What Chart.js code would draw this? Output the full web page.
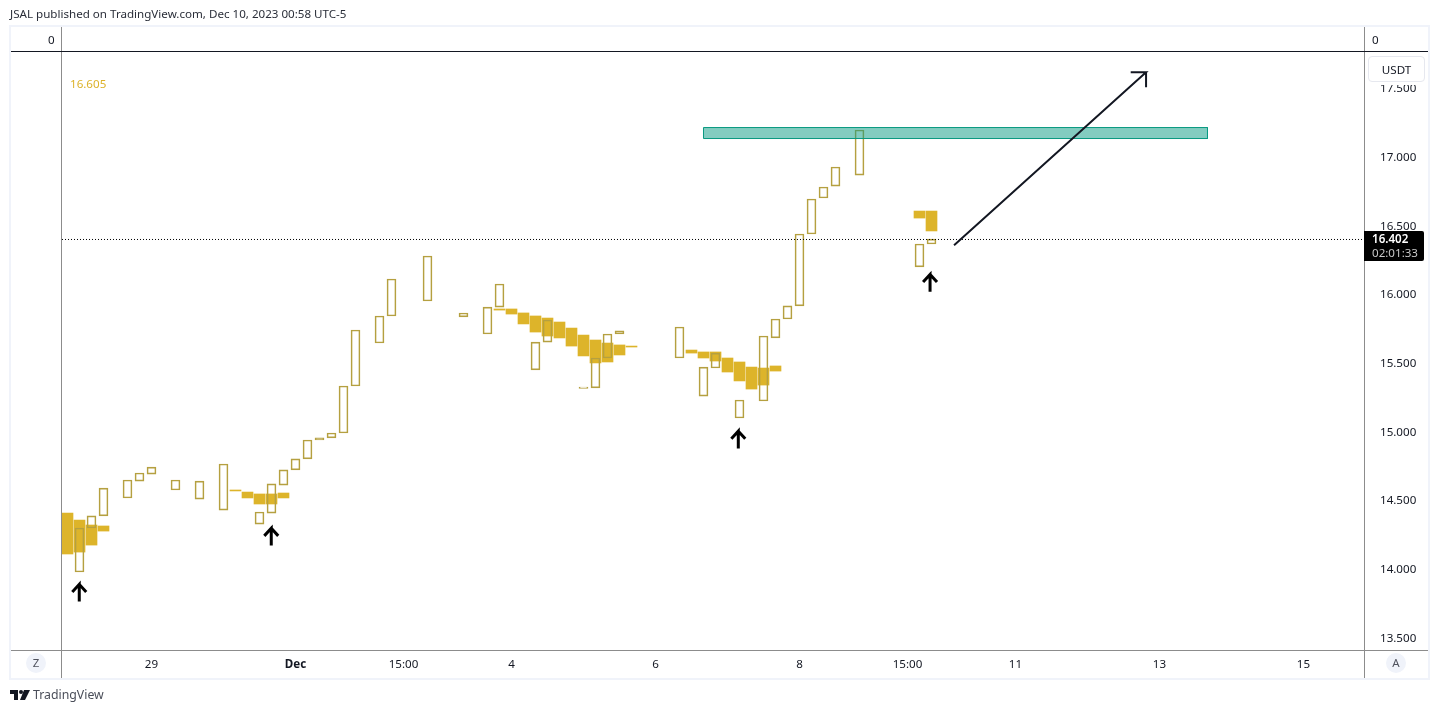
<!DOCTYPE html>
<html>
<head>
<meta charset="utf-8">
<title>JSAL chart</title>
<script src="https://cdn.jsdelivr.net/npm/chart.js@4"></script>
<style>
    html, body { margin: 0; padding: 0; background: #fff; width: 1438px; height: 713px; overflow: hidden; }
    body { font-family: "Noto Sans", sans-serif; color: #131722; position: relative; }
    canvas { position: absolute; left: 0; top: 0; }
    .abs { position: absolute; white-space: nowrap; }
    .txt { font-size: 11.6px; line-height: 16px; }
    .line { position: absolute; background: #8c8c8c; }
    .circle { position: absolute; width: 20px; height: 20px; border-radius: 50%; background: #f0f3fa; color: #50535e;
              font-size: 11.5px; line-height: 20px; text-align: center; }
</style>
</head>
<body>
<!-- frame of the chart widget -->
<div class="abs" style="left:9px;top:25px;width:1417px;height:651px;border:2px solid #f0f3fa;"></div>
<div class="line" style="left:61px;top:27px;width:1px;height:651px;"></div>
<div class="line" style="left:1364px;top:27px;width:1px;height:651px;"></div>
<div class="line" style="left:11px;top:650px;width:1417px;height:1px;"></div>
<div class="line" style="left:11px;top:51px;width:1417px;height:1px;background:#131722;"></div>

<canvas id="priceChart" width="1438" height="713"></canvas>

<div class="abs txt" style="left:10px;top:6px;color:#2a2e39;">JSAL published on TradingView.com, Dec 10, 2023 00:58 UTC-5</div>
<div class="abs txt" style="left:48px;top:32px;">0</div>
<div class="abs txt" style="left:1372px;top:32px;">0</div>
<div class="abs txt" style="left:70px;top:76px;color:#dcb22a;">16.605</div>

<!-- unit badge sits on top of the 17.500 tick -->
<div class="abs txt" style="left:1368px;top:56px;width:55px;height:24px;line-height:25px;background:#fff;border:1px solid #e6e8ef;border-radius:4px;text-align:center;box-shadow:0 3px 0 #fff;">USDT</div>

<!-- last price box -->
<div class="abs" style="left:1364px;top:231px;width:60px;height:30px;background:#000;border-radius:0 2px 2px 0;"></div>
<div class="abs txt" style="left:1372px;top:231px;color:#fff;font-weight:600;">16.402</div>
<div class="abs txt" style="left:1372px;top:245px;color:#c8c8c8;">02:01:33</div>

<div class="circle" style="left:26px;top:653px;">Z</div>
<div class="circle" style="left:1386px;top:653px;">A</div>

<!-- TradingView mark -->
<svg class="abs" style="left:10px;top:690px;" width="20" height="11" viewBox="0 0 20 11">
    <path d="M0 0h8v10H4V4H0z" fill="#131722"/>
    <circle cx="11" cy="2" r="2" fill="#131722"/>
    <path d="M14 0h6l-5 10H10z" fill="#131722"/>
</svg>
<div class="abs" style="left:33px;top:686px;font-size:12.3px;line-height:18px;color:#4a4e59;">TradingView</div>

<script>
    // Hollow candles: slot number on the time axis, top and bottom price
    const hollowSlots = [1, 2, 3, 5, 6, 7, 9, 11, 13, 16, 17, 18, 19, 20, 21, 22, 23, 24, 26, 27, 30, 33, 35, 36, 39, 40, 43, 44, 45, 46, 51, 53, 54, 56, 58, 59, 60, 61, 62, 63, 64, 66, 71, 72];
    const hollowTop = [14.295, 14.383, 14.586, 14.645, 14.696, 14.739, 14.645, 14.637, 14.761, 14.412, 14.616, 14.718, 14.798, 14.936, 14.951, 14.987, 15.329, 15.737, 15.839, 16.108, 16.276, 15.861, 15.904, 16.072, 15.649, 15.810, 15.322, 15.533, 15.708, 15.730, 15.759, 15.467, 15.569, 15.227, 15.693, 15.817, 15.912, 16.436, 16.691, 16.778, 16.924, 17.193, 16.363, 16.399];
    const hollowBottom = [13.975, 14.295, 14.383, 14.514, 14.637, 14.688, 14.572, 14.506, 14.426, 14.324, 14.404, 14.608, 14.718, 14.798, 14.936, 14.951, 14.987, 15.329, 15.642, 15.839, 15.948, 15.832, 15.708, 15.904, 15.446, 15.649, 15.312, 15.315, 15.533, 15.708, 15.533, 15.256, 15.460, 15.096, 15.220, 15.679, 15.817, 15.912, 16.436, 16.698, 16.785, 16.865, 16.196, 16.363];

    // Solid gold candles
    const goldSlots = [0, 1, 2, 3, 14, 15, 16, 17, 18, 36, 37, 38, 39, 40, 41, 42, 43, 44, 45, 46, 47, 52, 53, 54, 55, 56, 57, 58, 59, 71, 72];
    const goldTop = [14.404, 14.353, 14.317, 14.310, 14.572, 14.557, 14.543, 14.543, 14.550, 15.890, 15.890, 15.861, 15.839, 15.824, 15.795, 15.751, 15.700, 15.664, 15.642, 15.628, 15.620, 15.591, 15.577, 15.577, 15.533, 15.504, 15.467, 15.460, 15.475, 16.603, 16.603];
    const goldBottom = [14.106, 14.120, 14.171, 14.273, 14.565, 14.514, 14.470, 14.470, 14.514, 15.882, 15.853, 15.781, 15.722, 15.693, 15.679, 15.620, 15.548, 15.497, 15.504, 15.555, 15.613, 15.569, 15.533, 15.511, 15.431, 15.366, 15.307, 15.336, 15.438, 16.552, 16.458];

    // Axis ticks
    const priceTicks = [13.5, 14, 14.5, 15, 15.5, 16, 16.5, 17, 17.5];
    const timeSlots = [7, 19, 28, 37, 49, 61, 70, 79, 91, 103];
    const timeLabels = ['29', 'Dec', '15:00', '4', '6', '8', '15:00', '11', '13', '15'];

    // Drawings on the chart
    const lastLinePrice = 16.396;
    const zoneSlots = [53, 95];
    const zonePrices = [17.211, 17.131];
    const upArrowSlots = [0.98, 16.98, 55.9, 71.88];
    const upArrowTips = [13.885, 14.293, 15.0, 16.141];
    const longArrowSlots = [73.88, 89.88, 88.6, 89.88, 89.88];
    const longArrowPrices = [16.354, 17.613, 17.613, 17.613, 17.505];

    const hollowColor = '#b5a040';
    const goldColor = '#ddb42a';

    // Zip helpers for the datasets
    function barPoints(slots, tops, bottoms) {
        return slots.map(function (s, i) { return { x: s, y: [bottoms[i], tops[i]] }; });
    }
    function linePoints(xs, ys) {
        return xs.map(function (x, i) { return { x: x, y: ys[i] }; });
    }

    // One up arrow: tail, tip, left wing, tip, right wing
    function upArrow(slot, tip) {
        return linePoints(
            [slot, slot, slot - 0.58, slot, slot + 0.58],
            [tip - 0.125, tip, tip - 0.055, tip, tip - 0.055]
        );
    }

    const lineDefaults = { type: 'line', pointRadius: 0, tension: 0, fill: false, showLine: true };

    const datasets = [
        { type: 'bar', label: 'gold', grouped: false, order: 5, barThickness: 11, backgroundColor: goldColor, borderWidth: 0,
          data: barPoints(goldSlots, goldTop, goldBottom) },
        { type: 'bar', label: 'hollow', grouped: false, order: 4, barThickness: 9, backgroundColor: 'rgba(0,0,0,0)',
          borderColor: hollowColor, borderWidth: 1, borderSkipped: false,
          data: barPoints(hollowSlots, hollowTop, hollowBottom) },
        Object.assign({}, lineDefaults, { label: 'zone', order: 3, fill: 'shape', backgroundColor: 'rgba(8,153,129,0.5)',
          borderColor: '#089981', borderWidth: 1,
          data: linePoints(
              [zoneSlots[0], zoneSlots[1], zoneSlots[1], zoneSlots[0], zoneSlots[0]],
              [zonePrices[0], zonePrices[0], zonePrices[1], zonePrices[1], zonePrices[0]]) }),
        Object.assign({}, lineDefaults, { label: 'last', order: 2, borderColor: '#000', borderWidth: 1, borderDash: [1, 2],
          data: linePoints([-0.4583, 108.0417], [lastLinePrice, lastLinePrice]) }),
        Object.assign({}, lineDefaults, { label: 'long arrow', order: 1, borderColor: '#131722', borderWidth: 2,
          data: linePoints(longArrowSlots, longArrowPrices) })
    ];

    upArrowSlots.forEach(function (slot, i) {
        datasets.push(Object.assign({}, lineDefaults, { label: 'arrow ' + i, order: 1, borderColor: '#000', borderWidth: 3,
            borderJoinStyle: 'miter', data: upArrow(slot, upArrowTips[i]) }));
    });

    const tickFont = { family: '"Noto Sans", sans-serif', size: 11.6 };

    const ctx = document.getElementById('priceChart').getContext('2d');
    const priceChart = new Chart(ctx, {
        data: { datasets: datasets },
        options: {
            responsive: false,
            animation: false,
            devicePixelRatio: 1,
            layout: { padding: { left: 62, top: 52, right: 10, bottom: 33 } },
            plugins: { legend: { display: false }, tooltip: { enabled: false } },
            scales: {
                x: {
                    type: 'linear',
                    offset: false,
                    min: -0.4583,
                    max: 108.0417,
                    grid: { display: false },
                    border: { display: false },
                    afterFit: function (axis) { axis.height = 30; },
                    afterBuildTicks: function (axis) {
                        axis.ticks = timeSlots.map(function (s) { return { value: s }; });
                    },
                    ticks: {
                        autoSkip: false,
                        maxRotation: 0,
                        padding: 0,
                        color: '#131722',
                        font: function (c) {
                            const isDec = c.tick && c.tick.value === 19;
                            return Object.assign({}, tickFont, { weight: isDec ? 'bold' : 'normal' });
                        },
                        callback: function (value) { return timeLabels[timeSlots.indexOf(value)]; }
                    }
                },
                y: {
                    type: 'linear',
                    position: 'right',
                    min: 13.407,
                    max: 17.761,
                    grid: { display: false },
                    border: { display: false },
                    afterFit: function (axis) { axis.width = 64; },
                    afterBuildTicks: function (axis) {
                        axis.ticks = priceTicks.map(function (p) { return { value: p }; });
                    },
                    ticks: {
                        padding: 8,
                        labelOffset: 1,
                        color: '#131722',
                        font: tickFont,
                        callback: function (value) { return value.toFixed(3); }
                    }
                }
            }
        }
    });
</script>
</body>
</html>
